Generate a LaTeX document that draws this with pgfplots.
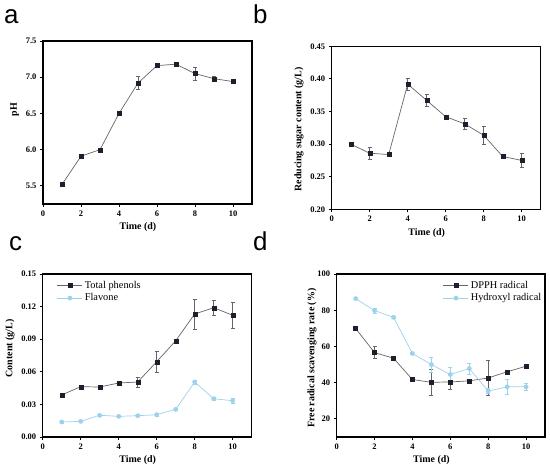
\documentclass[border=0pt]{standalone}
\usepackage{pgfplots}
\pgfplotsset{compat=1.18}
\usepackage{fontspec}
\setmainfont{Liberation Serif}
\newfontfamily\letterfont{Liberation Sans}
\definecolor{mk}{HTML}{1E1E2C}
\definecolor{ln}{HTML}{666666}
\definecolor{lb}{HTML}{9CD2EC}
\pgfplotsset{
  panel/.style={scale only axis, anchor=south west, width=209bp, height=163bp,
    axis line style={line width=1.3bp, black},
    tick align=outside, major tick length=3bp, xtick pos=lower, ytick pos=left,
    tick style={line width=0.8bp, black},
    /pgf/number format/assume math mode=true,
    tick label style={font=\bfseries\fontsize{8.5}{10}\selectfont},
    label style={font=\bfseries\fontsize{10}{12}\selectfont},
    xmin=0, xmax=11, xtick={0,2,4,6,8,10}, xlabel={Time (d)},
    xlabel style={at={(ticklabel cs:0.4545)}},
    clip=false,
    legend style={draw=none, fill=none, anchor=north west, font=\mdseries\fontsize{10.4}{12}\selectfont, row sep=0bp, inner sep=0pt, cells={anchor=west}},
    legend image code/.code={\draw[mark repeat=2,mark phase=2,##1] plot coordinates {(0bp,0bp) (12.5bp,0bp) (25bp,0bp)};},
  },
  blk/.style={color=ln, line width=0.7bp, mark=square*, mark size=2bp,
    mark options={fill=mk, draw=mk, line width=0.3bp},
    error bars/.cd, y dir=both, y explicit,
    error bar style={color=ln, line width=0.6bp},
    error mark options={rotate=90, mark size=2bp, color=ln, line width=0.6bp}},
  blu/.style={color=lb, line width=0.7bp, mark=*, mark size=2.2bp,
    mark options={fill=lb, draw=lb, line width=0.3bp},
    error bars/.cd, y dir=both, y explicit,
    error bar style={color=lb, line width=0.6bp},
    error mark options={rotate=90, mark size=2bp, color=lb, line width=0.6bp}},
}
\begin{document}
\begin{tikzpicture}
\useasboundingbox (0,0) rectangle (550bp,469bp);
\node[anchor=base west, inner sep=0pt, font=\letterfont\fontsize{26}{30}\selectfont] at (4bp,445bp) {a};
\node[anchor=base west, inner sep=0pt, font=\letterfont\fontsize{26}{30}\selectfont] at (253bp,445bp) {b};
\node[anchor=base west, inner sep=0pt, font=\letterfont\fontsize{26}{30}\selectfont] at (9bp,218bp) {c};
\node[anchor=base west, inner sep=0pt, font=\letterfont\fontsize{26}{30}\selectfont] at (253bp,218bp) {d};

% panel a
\begin{axis}[panel, at={(43bp,265bp)},
  ymin=5.25, ymax=7.5, ytick={5.5,6.0,6.5,7.0,7.5},
  yticklabel style={/pgf/number format/.cd, fixed, fixed zerofill, precision=1},
  ylabel={pH}, ylabel style={at={(ticklabel cs:0.58)}}]
\addplot[blk] table[x=x, y=y, y error=e] {
x y e
1 5.52 0.03
2 5.91 0.03
3 6.00 0.01
4 6.50 0.03
5 6.92 0.09
6 7.16 0.01
7 7.18 0.01
8 7.05 0.09
9 6.98 0.03
10 6.94 0.01
};
\end{axis}

% panel b
\begin{axis}[panel, at={(331.7bp,259.7bp)},
  ymin=0.20, ymax=0.45, ytick={0.20,0.25,0.30,0.35,0.40,0.45},
  yticklabel style={/pgf/number format/.cd, fixed, fixed zerofill, precision=2},
  ylabel={Reducing sugar content (g/L)}, ylabel style={at={(ticklabel cs:0.49)}}]
\addplot[blk] table[x=x, y=y, y error=e] {
x y e
1 0.300 0.002
2 0.286 0.0095
3 0.284 0.002
4 0.392 0.0094
5 0.367 0.009
6 0.342 0.002
7 0.331 0.009
8 0.3135 0.0145
9 0.281 0.002
10 0.275 0.011
};
\end{axis}

% panel c
\begin{axis}[panel, at={(42.7bp,32bp)},
  ymin=0, ymax=0.15, ytick={0,0.03,0.06,0.09,0.12,0.15},
  yticklabel style={/pgf/number format/.cd, fixed, fixed zerofill, precision=2},
  ylabel={Content (g/L)}, ylabel style={at={(ticklabel cs:0.543)}},
  legend style={at={(0.068,0.97)}}]
\addplot[blk] table[x=x, y=y, y error=e] {
x y e
1 0.0387 0.001
2 0.0463 0.001
3 0.0460 0.001
4 0.0497 0.001
5 0.0506 0.0046
6 0.0693 0.010
7 0.0886 0.001
8 0.1132 0.0137
9 0.1190 0.0067
10 0.1120 0.0117
};
\addlegendentry{Total phenols}
\addplot[blu] table[x=x, y=y, y error=e] {
x y e
1 0.0138 0.001
2 0.0144 0.001
3 0.0200 0.001
4 0.0190 0.001
5 0.0196 0.001
6 0.0205 0.001
7 0.0255 0.001
8 0.0506 0.002
9 0.0352 0.001
10 0.0334 0.002
};
\addlegendentry{Flavone}
\end{axis}

% panel d
\begin{axis}[panel, at={(336.7bp,32bp)}, width=208.3bp,
  ymin=10, ymax=100, ytick={20,40,60,80,100},
  ylabel={Free radical scavenging rate (\%)}, ylabel style={at={(ticklabel cs:0.484)}, yshift=-6bp},
  legend style={at={(0.51,0.97)}}]
\addplot[blk] table[x=x, y=y, y error=e] {
x y e
1 69.9 0.5
2 56.6 3.3
3 53.5 0.5
4 41.7 0.5
5 40.2 7.4
6 40.4 4.0
7 41.0 0.5
8 42.6 9.7
9 46.0 0.5
10 49.1 1.0
};
\addlegendentry{DPPH radical}
\addplot[blu] table[x=x, y=y, y error=e] {
x y e
1 86.4 0.5
2 79.8 1.5
3 76.1 0.5
4 56.1 0.5
5 50.0 4.1
6 44.5 4.0
7 47.8 3.0
8 35.4 1.5
9 37.7 4.0
10 37.7 2.0
};
\addlegendentry{Hydroxyl radical}
\end{axis}
\end{tikzpicture}
\end{document}
